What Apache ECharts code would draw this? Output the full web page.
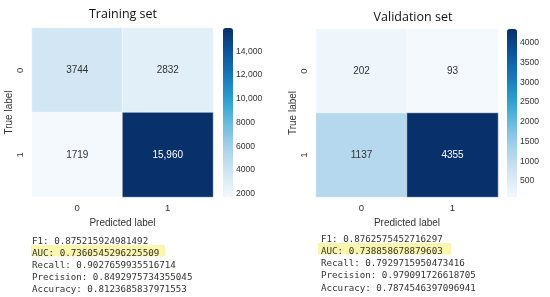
<!DOCTYPE html>
<html>
<head>
<meta charset="utf-8">
<script src="https://cdn.jsdelivr.net/npm/echarts@6/dist/echarts.min.js"></script>
<style>
html, body { margin: 0; padding: 0; background: #fff; }
#main { width: 550px; height: 297px; }
</style>
</head>
<body>
<div id="main"></div>
<script>
// confusion matrices: [predicted, true, count]
var labels = ['0', '1'];
var trainCounts = [[0, 0, 3744], [1, 0, 2832], [0, 1, 1719], [1, 1, 15960]];
var valCounts = [[0, 0, 202], [1, 0, 93], [0, 1, 1137], [1, 1, 4355]];
var trainTicks = [2000, 4000, 6000, 8000, 10000, 12000, 14000];
var valTicks = [500, 1000, 1500, 2000, 2500, 3000, 3500, 4000];
var trainMetrics = [
  'F1: 0.875215924981492',
  'AUC: 0.7360545296225509',
  'Recall: 0.9027659935516714',
  'Precision: 0.8492975734355045',
  'Accuracy: 0.8123685837971553'
];
var valMetrics = [
  'F1: 0.8762575452716297',
  'AUC: 0.738858678879603',
  'Recall: 0.7929715950473416',
  'Precision: 0.979091726618705',
  'Accuracy: 0.7874546397096941'
];

var blues = ['#f4f9fe', '#d2e6f4', '#a9d3ec', '#6cbde2', '#2aa2d4', '#1679bd', '#0b55a0', '#08306b'];
var txt = '#333';

function vmin(d) { return Math.min.apply(null, d.map(function (r) { return r[2]; })); }
function vmax(d) { return Math.max.apply(null, d.map(function (r) { return r[2]; })); }

function fmt(v) {
  return v >= 10000 ? v.toLocaleString('en-US') : String(v);
}

function cells(d) {
  var lo = vmin(d), hi = vmax(d);
  return d.map(function (r) {
    var dark = (r[2] - lo) / (hi - lo) > 0.6;
    return { value: r, label: { color: dark ? '#fff' : txt } };
  });
}

var panels = [
  { title: 'Training set', data: trainCounts, ticks: trainTicks, metrics: trainMetrics,
    gl: 32, gw: 181, gt: 28, gh: 169, cl: 223, titleX: 118, titleY: 3,
    mx: 32, my: 241.5, step: 12, hl: [31, 245, 134, 11.5] },
  { title: 'Validation set', data: valCounts, ticks: valTicks, metrics: valMetrics,
    gl: 316, gw: 182, gt: 29, gh: 168, cl: 507, titleX: 408, titleY: 6,
    mx: 321, my: 239.5, step: 12.2, hl: [318, 243, 133, 11.5] }
];

var grid = [], xAxis = [], yAxis = [], series = [], visualMap = [], title = [], graphic = [];

panels.forEach(function (p, i) {
  grid.push({ left: p.gl, top: p.gt, width: p.gw, height: p.gh });
  xAxis.push({
    type: 'category', gridIndex: i, data: labels,
    axisLine: { show: false }, axisTick: { show: false }, splitArea: { show: false },
    axisLabel: { color: txt, fontSize: 9.5, margin: 6 },
    name: 'Predicted label', nameLocation: 'middle', nameGap: 16,
    nameTextStyle: { color: txt, fontSize: 10 }
  });
  yAxis.push({
    type: 'category', gridIndex: i, data: labels, inverse: true,
    axisLine: { show: false }, axisTick: { show: false },
    axisLabel: { color: txt, fontSize: 9.5, rotate: 90, margin: 7 },
    name: 'True label', nameLocation: 'middle', nameGap: 15,
    nameTextStyle: { color: txt, fontSize: 10 }
  });
  series.push({
    type: 'heatmap', xAxisIndex: i, yAxisIndex: i, data: cells(p.data),
    label: { show: true, fontSize: 10, formatter: function (q) { return fmt(q.value[2]); } },
    itemStyle: { borderColor: '#fff', borderWidth: 0.5 },
    emphasis: { disabled: true }
  });
  visualMap.push({
    type: 'continuous', seriesIndex: i, min: vmin(p.data), max: vmax(p.data),
    calculable: false, hoverLink: false, text: null, showLabel: false,
    left: p.cl, top: p.gt, itemWidth: 10, itemHeight: p.gh, padding: 0,
    inRange: { color: blues }
  });
  title.push({
    text: p.title, left: p.titleX, top: p.titleY, textAlign: 'center',
    textStyle: { fontSize: 12.5, fontWeight: 'normal', color: '#111', fontFamily: 'Open Sans' }
  });
  graphic.push({
    type: 'rect', shape: { x: p.hl[0], y: p.hl[1], width: p.hl[2], height: p.hl[3] },
    style: { fill: '#fbf6ad' }
  });
  p.metrics.forEach(function (m, k) {
    graphic.push({
      type: 'text', x: p.mx, y: p.my + k * p.step,
      style: { text: m, fill: txt, font: '9.2px "DejaVu Sans Mono"', verticalAlign: 'middle' }
    });
  });
});

// colorbar tick axes
panels.forEach(function (p, i) {
  var gi = panels.length + i;
  grid.push({ left: p.cl, top: p.gt, width: 10, height: p.gh });
  xAxis.push({ type: 'value', gridIndex: gi, show: false });
  yAxis.push({
    type: 'value', gridIndex: gi, position: 'right',
    min: vmin(p.data), max: vmax(p.data),
    axisLine: { show: false }, splitLine: { show: false },
    axisTick: { show: true, length: 4, lineStyle: { color: '#444' }, customValues: p.ticks },
    axisLabel: { color: txt, fontSize: 8.6, margin: 3, formatter: fmt, customValues: p.ticks }
  });
});

var chart = echarts.init(document.getElementById('main'), null, { renderer: 'canvas' });
chart.setOption({
  animation: false,
  title: title,
  grid: grid,
  xAxis: xAxis,
  yAxis: yAxis,
  visualMap: visualMap,
  series: series,
  graphic: graphic
});
</script>
</body>
</html>
